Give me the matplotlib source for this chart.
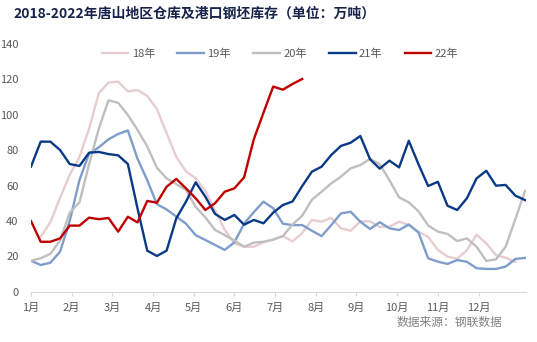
import numpy as np
import matplotlib
matplotlib.use("Agg")
import matplotlib.pyplot as plt

plt.rcParams['font.family'] = ['Noto Sans CJK SC', 'DejaVu Sans']

# weekly inventory, 10k tonnes
years = ['18年', '19年', '20年', '21年', '22年']
y18 = [31, 39.3, 53, 66, 76, 92, 112, 118, 118.5, 113, 113.8, 110.5, 103, 89.4,
       76.2, 68, 64, 57, 46, 35, 27.4, 25.5, 25.5, 28, 29.5, 31.5, 28.5, 33.2,
       40.6, 39.6, 41.8, 35.9, 34.5, 39.8, 39.8, 36.6, 36.8, 39.6, 37.8, 34, 31,
       23.7, 19.9, 18.8, 23.5, 32.3, 27.4, 20.8, 19.3, 17]
y19 = [17.6, 15.2, 16.5, 22.7, 40, 63, 78, 81.5, 86, 89, 91, 75, 63, 49.5, 46.5,
       42.5, 38.5, 32, 29.3, 26.5, 23.7, 28, 38.5, 45, 50.9, 47.2, 38.5, 37.7,
       37.7, 34.5, 31.5, 37.7, 44.3, 45.2, 39.6, 35.5, 39.3, 35.9, 34.9, 38, 33.5,
       19, 17.1, 15.8, 18, 17, 13.4, 13, 13, 14.3, 18.6, 19.2]
y20 = [17.6, 19, 21.5, 29, 44.7, 50.5, 72, 92, 108, 106.6, 99.7, 91.3, 82, 70, 64,
       60.8, 57.5, 48, 42, 35, 32, 29, 25.5, 27.8, 28.3, 29.5, 31.5, 38, 43, 52,
       56.5, 61.2, 65, 69.7, 71.5, 75, 72, 63, 53.3, 50.5, 45.5, 37.5, 34, 32.7,
       28.7, 30.2, 25.5, 17.5, 18.4, 25.5, 41, 57]
y21 = [70.6, 84.7, 84.7, 80, 72.1, 71, 78.5, 78.9, 77.7, 77, 72.1, 47, 23.3, 20.3,
       23.3, 41.5, 50.9, 61.8, 53.7, 44, 40.6, 43.4, 37.9, 40.6, 38.7, 44.7, 49,
       51, 59.7, 67.8, 70.6, 77.2, 82.3, 84.1, 87.9, 74.8, 69.5, 74, 70.2, 85.2,
       72, 59.7, 62.1, 48.6, 46.2, 52.8, 64, 68.3, 59.9, 60.3, 54.3, 51.8]
y22 = [40, 28.3, 28.3, 30.2, 37.4, 37.4, 41.9, 41, 41.7, 34, 42.4, 39.2, 51.3,
       50.3, 59.3, 63.7, 58.4, 52.8, 46.2, 50, 56.5, 58.4, 64.6, 86, 101, 115.7,
       114, 117.2, 120]
months = ['%d月' % m for m in range(1, 13)]

colors = ['#e8cdcf', '#7f9dcb', '#bfbfbf', '#0a3a86', '#c00000']

fig = plt.figure(figsize=(5.37, 3.42), dpi=100)
ax = fig.add_axes([0.0577, 0.1462, 0.9218, 0.7266])

series = [(np.arange(1, 1 + len(y18)), y18),
          (np.arange(len(y19)), y19),
          (np.arange(len(y20)), y20),
          (np.arange(len(y21)), y21),
          (np.arange(len(y22)), y22)]
for (x, y), c, lab in zip(series, colors, years):
    ax.plot(x, y, color=c, lw=1.7, label=lab)

ax.set_xlim(0, 51.1)
ax.set_ylim(0, 140)
ax.set_yticks(range(0, 141, 20))
ax.set_xticks(np.arange(12) * 4.2)
ax.set_xticklabels(months)
for s in ['top', 'right', 'left']:
    ax.spines[s].set_visible(False)
ax.spines['bottom'].set_color('#d9d9d9')
ax.tick_params(axis='y', length=0, pad=9, labelsize=8, labelcolor='#595959')
ax.tick_params(axis='x', length=3, color='#d9d9d9', pad=5, labelsize=8,
               labelcolor='#595959')

fig.legend(loc='center', bbox_to_anchor=(280 / 537, 1 - 54 / 342), ncol=5,
           frameon=False, fontsize=8, handlelength=2.4, handletextpad=0.3,
           columnspacing=2.0, labelcolor='#595959')

fig.text(13 / 537, 1 - 14 / 342, '2018-2022年唐山地区仓库及港口钢坯库存（单位：万吨）',
         fontsize=10, fontweight='bold', color='#17234a', va='center', ha='left')
fig.text(502 / 537, 1 - 322 / 342, '数据来源：钢联数据', fontsize=8.5,
         color='#808080', ha='right', va='center')

fig.savefig('out.png', dpi=100)
